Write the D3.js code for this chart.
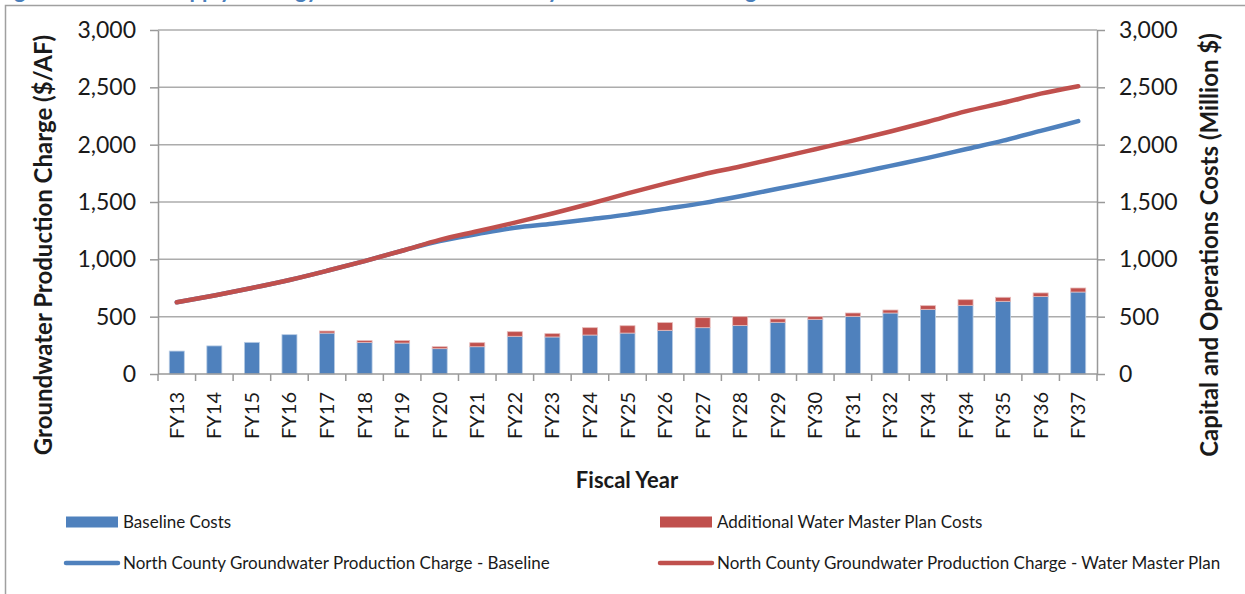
<!DOCTYPE html>
<meta charset="utf-8">
<style>
body { margin: 0; background: #fff; }
svg text { font-family: Lato, "Open Sans", sans-serif; fill: #1a1a1a; }
.tick text { font-size: 23px; }
.x-axis .tick text { font-size: 20px; }
.axis-title { font-weight: bold; font-size: 24px; }
.legend-elem text { font-size: 17px; }
</style>

<svg width="1245" height="594"></svg>

<script src="https://d3js.org/d3.v7.min.js"></script>
<script>

// Data
var fiscalYears = ["FY13","FY14","FY15","FY16","FY17","FY18","FY19","FY20","FY21","FY22",
                   "FY23","FY24","FY25","FY26","FY27","FY28","FY29","FY30","FY31","FY32",
                   "FY34","FY34","FY35","FY36","FY37"];
var baselineCosts   = [200,245,276,343,357,276,270,221,238,329,323,340,357,381,404,424,451,477,503,532,564,599,634,675,715];
var additionalCosts = [0,0,0,0,18,15,22,17,35,40,29,64,64,67,87,76,29,23,29,26,32,49,35,32,35];
var chargeBaseline   = [625,685,750,820,900,985,1075,1160,1220,1275,1310,1350,1390,1440,1490,1550,1615,1680,1745,1815,1885,1960,2035,2120,2205];
var chargeMasterPlan = [625,685,750,820,900,985,1075,1170,1245,1320,1400,1485,1575,1660,1740,1810,1885,1960,2035,2115,2200,2290,2365,2445,2510];
var yTicks = [0, 500, 1000, 1500, 2000, 2500, 3000];

var blue = "#4f81bd", red = "#c0504d", grid = "#acacac";

var svg = d3.select("svg");

// outer frame + clipped figure title
svg.append("rect")
    .attr("x", 5.5).attr("y", 5.5)
    .attr("width", 1300).attr("height", 700)
    .attr("fill", "none")
    .attr("stroke", "#a0a0a0")
    .attr("stroke-width", 1.5);

svg.append("text")
    .attr("x", -4).attr("y", -2)
    .attr("font-size", 22).attr("font-weight", "bold")
    .style("fill", "#4a7ebb")
    .text("Figure 11: Water Supply Strategy Costs and North County Groundwater Charge");

var margin = {left: 158, right: 1097, top: 30, bottom: 374};

var x = d3.scaleBand()
    .domain(d3.range(fiscalYears.length))
    .range([margin.left, margin.right])
    .paddingInner(0.6)
    .paddingOuter(0.3);

var y = d3.scaleLinear()
    .domain([0, 3000])
    .range([margin.bottom, margin.top]);

// gridlines
svg.append("g")
  .selectAll("line")
  .data(yTicks.slice(1))
  .join("line")
    .attr("x1", margin.left).attr("x2", margin.right)
    .attr("y1", d => y(d)).attr("y2", d => y(d))
    .attr("stroke", grid)
    .attr("stroke-width", 1.5);

// stacked bars
var bars = svg.append("g");
bars.selectAll(".base")
  .data(baselineCosts)
  .join("rect")
    .attr("class", "base")
    .attr("x", (d, i) => x(i))
    .attr("width", x.bandwidth())
    .attr("y", d => y(d))
    .attr("height", d => y(0) - y(d))
    .attr("fill", blue)
    .attr("stroke", "#b9cde5")
    .attr("stroke-width", 0.8);

bars.selectAll(".add")
  .data(additionalCosts)
  .join("rect")
    .attr("class", "add")
    .attr("x", (d, i) => x(i))
    .attr("width", x.bandwidth())
    .attr("y", (d, i) => y(baselineCosts[i] + d))
    .attr("height", d => y(0) - y(d))
    .attr("fill", red)
    .attr("stroke", "#e6b9b8")
    .attr("stroke-width", 0.8);

// lines
var line = d3.line()
    .x((d, i) => x(i) + x.bandwidth() / 2)
    .y(d => y(d))
    .curve(d3.curveMonotoneX);

[[chargeBaseline, blue], [chargeMasterPlan, red]].forEach(function (s) {
  svg.append("path")
      .datum(s[0])
      .attr("d", line)
      .attr("fill", "none")
      .attr("stroke", s[1])
      .attr("stroke-width", 4.5)
      .attr("stroke-linecap", "round")
      .attr("stroke-linejoin", "round");
});

// axes
function styleAxis(g) {
  g.select(".domain").attr("stroke", "#999").attr("stroke-width", 1.5);
  g.selectAll(".tick line").attr("stroke", "#999").attr("stroke-width", 1.5);
}

svg.append("g")
    .attr("transform", `translate(${margin.left},0)`)
    .call(d3.axisLeft(y).tickValues(yTicks).tickFormat(d3.format(",")).tickSize(8).tickSizeOuter(0).tickPadding(14))
    .call(styleAxis);

svg.append("g")
    .attr("transform", `translate(${margin.right},0)`)
    .call(d3.axisRight(y).tickValues(yTicks).tickFormat(d3.format(",")).tickSize(8).tickSizeOuter(0).tickPadding(14))
    .call(styleAxis);

// category axis: ticks between categories
var xAxis = svg.append("g")
    .attr("class", "x-axis")
    .attr("transform", `translate(0,${margin.bottom})`);
xAxis.append("line")
    .attr("x1", margin.left).attr("x2", margin.right)
    .attr("stroke", "#999").attr("stroke-width", 1.5);
xAxis.selectAll(".sep")
  .data(d3.range(fiscalYears.length + 1))
  .join("line")
    .attr("x1", i => margin.left + i * (margin.right - margin.left) / fiscalYears.length)
    .attr("x2", i => margin.left + i * (margin.right - margin.left) / fiscalYears.length)
    .attr("y1", 0).attr("y2", 7)
    .attr("stroke", "#999").attr("stroke-width", 1.5);
xAxis.selectAll(".tick")
  .data(fiscalYears)
  .join("g")
    .attr("class", "tick")
    .attr("transform", (d, i) => `translate(${x(i) + x.bandwidth() / 2},18) rotate(-90)`)
  .append("text")
    .attr("text-anchor", "end")
    .attr("dy", "0.35em")
    .text(d => d);

// axis titles
svg.append("text")
    .attr("class", "axis-title")
    .attr("transform", "translate(52,245) rotate(-90)")
    .attr("text-anchor", "middle")
    .text("Groundwater Production Charge ($/AF)");

svg.append("text")
    .attr("class", "axis-title")
    .attr("transform", "translate(1218,245) rotate(-90)")
    .attr("text-anchor", "middle")
    .text("Capital and Operations Costs (Million $)");

svg.append("text")
    .attr("class", "axis-title")
    .attr("x", 627).attr("y", 488)
    .attr("text-anchor", "middle")
    .style("font-size", "22px")
    .text("Fiscal Year");

// legend
var legendItems = [
  {label: "Baseline Costs", color: blue, type: "rect", x: 66, y: 522},
  {label: "Additional Water Master Plan Costs", color: red, type: "rect", x: 660, y: 522},
  {label: "North County Groundwater Production Charge - Baseline", color: blue, type: "line", x: 66, y: 563},
  {label: "North County Groundwater Production Charge - Water Master Plan", color: red, type: "line", x: 660, y: 563}
];

var legend = svg.selectAll(".legend-elem")
  .data(legendItems)
  .join("g")
    .attr("class", "legend-elem")
    .attr("transform", d => `translate(${d.x},${d.y})`);

legend.filter(d => d.type === "rect").append("rect")
    .attr("x", 0).attr("y", -5.5)
    .attr("width", 52).attr("height", 11)
    .attr("fill", d => d.color);

legend.filter(d => d.type === "line").append("line")
    .attr("x1", 0).attr("x2", 52)
    .attr("stroke", d => d.color)
    .attr("stroke-width", 4.5)
    .attr("stroke-linecap", "round");

legend.append("text")
    .attr("x", 57)
    .attr("dy", "0.35em")
    .text(d => d.label);

</script>
